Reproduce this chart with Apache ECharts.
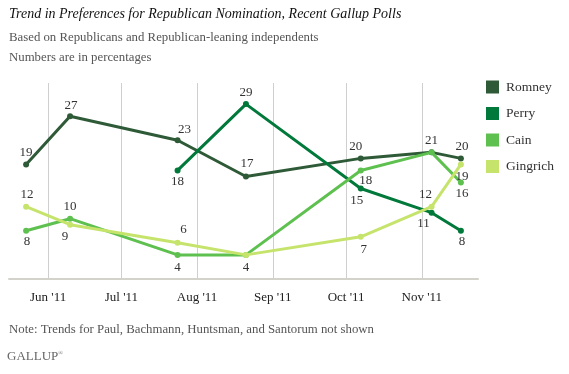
<!DOCTYPE html>
<html>
<head>
<meta charset="utf-8">
<script src="https://cdn.jsdelivr.net/npm/echarts@6/dist/echarts.min.js"></script>
<style>
html,body{margin:0;padding:0;background:#fff;}
#chart{width:569px;height:374px;}
</style>
</head>
<body>
<div id="chart"></div>
<script>
// ---- data ----
const pollDates = ['2011-05-23','2011-06-10','2011-07-24','2011-08-21','2011-10-07','2011-11-05','2011-11-17'];
const romney   = [19, 27, 23, 17, 20, 21, 20];
const perry    = [null, null, 18, 29, 15, 11, 8];
const cain     = [8, 10, 4, 4, 18, 21, 16];
const gingrich = [12, 9, 6, 4, 7, 12, 19];
const seriesNames = ['Romney', 'Perry', 'Cain', 'Gingrich'];
const tickDates  = ['2011-06-01','2011-07-01','2011-08-01','2011-09-01','2011-10-01','2011-11-01'];
const tickLabels = ["Jun '11", "Jul '11", "Aug '11", "Sep '11", "Oct '11", "Nov '11"];

// ---- style ----
const colors = ['#2e5a37', '#00793a', '#5ec04f', '#c6e46c'];
// label offsets per point [dx, dy] (null = hidden)
const labelOffsets = [
  [[0,-12],[1,-11],[7,-11],[1,-12.5],[-5,-12],[0,-12],[1,-12]],
  [null,null,[0,11],[0,-12],[-4,12],[-8,11],[1,11]],
  [[1,11],[0,-12],[0,12.5],[0,12.5],[5,10],null,[1,11]],
  [[1,-12.5],[-5,12],[6,-13],null,[3,12.5],[-6,-12.5],[1,12]]
];
const serif = 'Liberation Serif';

// day number (UTC) for a yyyy-mm-dd string
function dayNum(s){ const p = s.split('-').map(Number); return Date.UTC(p[0], p[1]-1, p[2]) / 86400000; }
const tickDays = tickDates.map(dayNum);

const allValues = [romney, perry, cain, gingrich];
const series = allValues.map((vals, si) => ({
  name: seriesNames[si],
  type: 'line',
  symbol: 'circle',
  symbolSize: 6,
  showAllSymbol: true,
  connectNulls: false,
  lineStyle: { width: 3, color: colors[si] },
  itemStyle: { color: colors[si] },
  emphasis: { disabled: true },
  data: vals.map((v, i) => {
    const off = labelOffsets[si][i];
    return {
      value: [dayNum(pollDates[i]), v],
      label: off ? { show: true, position: 'inside', offset: off } : { show: false }
    };
  }),
  label: {
    show: true,
    formatter: p => p.value[1],
    color: '#333',
    fontFamily: serif,
    fontSize: 13
  },
  z: 2 + si
}));

const chart = echarts.init(document.getElementById('chart'), null, { renderer: 'canvas' });
chart.setOption({
  animation: false,
  backgroundColor: '#fff',
  title: [
    { text: 'Trend in Preferences for Republican Nomination, Recent Gallup Polls', left: 9, top: 7.5, padding: 0,
      textStyle: { fontFamily: serif, fontStyle: 'italic', fontWeight: 'normal', fontSize: 14, color: '#111' } },
    { text: 'Based on Republicans and Republican-leaning independents', left: 9, top: 31, padding: 0,
      textStyle: { fontFamily: serif, fontWeight: 'normal', fontSize: 12.8, color: '#555' } },
    { text: 'Numbers are in percentages', left: 9, top: 51.5, padding: 0,
      textStyle: { fontFamily: serif, fontWeight: 'normal', fontSize: 12.8, color: '#555' } },
    { text: 'Note: Trends for Paul, Bachmann, Huntsman, and Santorum not shown', left: 9, top: 323, padding: 0,
      textStyle: { fontFamily: serif, fontWeight: 'normal', fontSize: 12.8, color: '#555' } },
    { text: 'GALLUP{r|®}', left: 7, top: 350, padding: 0,
      textStyle: { fontFamily: serif, fontWeight: 'normal', fontSize: 13, color: '#666',
        rich: { r: { fontSize: 6, color: '#666', verticalAlign: 'top', padding: [0,0,6,0] } } } }
  ],
  legend: {
    orient: 'vertical',
    left: 481, top: 75,
    itemWidth: 13, itemHeight: 13, itemGap: 12.5,
    icon: 'rect',
    data: seriesNames,
    textStyle: { fontFamily: serif, fontSize: 13.5, color: '#333', padding: [0,0,0,2] },
    selectedMode: false
  },
  grid: { left: 9, right: 91, top: 83, bottom: 95, containLabel: false },
  xAxis: {
    type: 'value',
    min: dayNum('2011-05-16'),
    max: dayNum('2011-11-24'),
    axisLine: { show: true, onZero: false, lineStyle: { color: '#d3d3cc', width: 2 } },
    axisTick: { show: false, customValues: tickDays },
    splitLine: { show: true, lineStyle: { color: '#cfcfcf', width: 1 } },
    axisLabel: {
      customValues: tickDays,
      formatter: v => { const i = tickDays.indexOf(v); return i >= 0 ? tickLabels[i] : ''; },
      color: '#222', fontFamily: serif, fontSize: 13, margin: 12
    }
  },
  yAxis: {
    type: 'value', min: 0, max: 32.5,
    show: false,
    splitLine: { show: false }
  },
  series: series
});
</script>
</body>
</html>
